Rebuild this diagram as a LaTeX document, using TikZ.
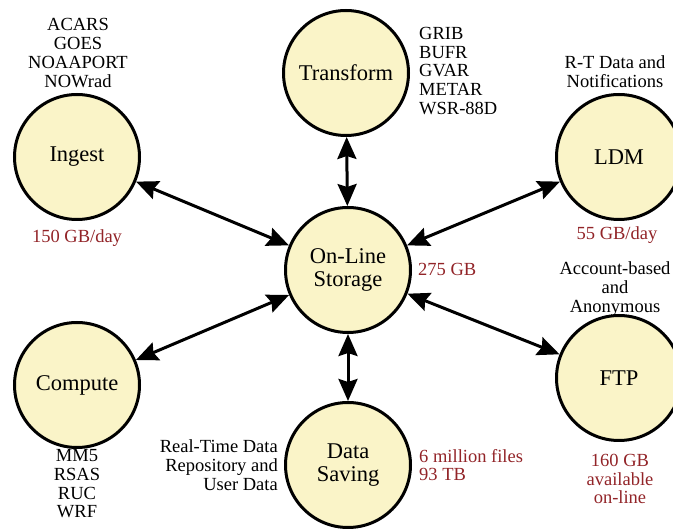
\documentclass[tikz,border=0pt]{standalone}
\usepackage{fontspec}
\setmainfont{Liberation Serif}
\usepackage{xcolor}
\usetikzlibrary{arrows.meta}
\definecolor{hubfill}{RGB}{250,244,200}
\definecolor{datared}{RGB}{146,36,40}

\begin{document}
\begin{tikzpicture}[x=1pt, y=-1pt,
  hub/.style={circle, draw=black, line width=3pt, fill=hubfill,
    minimum size=125pt, inner sep=0pt, align=center,
    font=\fontsize{22.5}{23}\selectfont},
  note/.style={inner sep=0pt, font=\fontsize{18.5}{18.7}\selectfont},
  amount/.style={note, text=datared},
  tip/.tip={Stealth[length=22pt 0, width=19pt 0, inset=3pt]},
  link/.style={line width=3pt, tip-tip}]
  \useasboundingbox (0,0) rectangle (673,529);

  % Draw the storage hub in the middle
  \node[hub] (storage) at (348,270) {On-Line\\Storage};

  % Draw the six services round it
  \node[hub] (ingest) at (77,157) {Ingest};
  \node[hub] (transform) at (346,73) {Transform};
  \node[hub] (ldm) at (619,157) {LDM};
  \node[hub] (compute) at (77,385) {Compute};
  \node[hub] (saving) at (348,465) {Data\\Saving};
  \node[hub] (ftp) at (619,378) {FTP};

  % Draw the two-way links
  \draw[link] (storage) -- (ingest);
  \draw[link] (storage) -- (transform);
  \draw[link] (storage) -- (ldm);
  \draw[link] (storage) -- (compute);
  \draw[link] (storage) -- (saving);
  \draw[link] (storage) -- (ftp);

  % Label the sources and products
  \node[note, align=center] (ingestsrc) at (78,53) {ACARS\\GOES\\NOAAPORT\\NOWrad};
  \node[note, align=left, anchor=west] (formats) at (419,71) {GRIB\\BUFR\\GVAR\\METAR\\WSR-88D};
  \node[note, align=center] (ldmnote) at (615,72) {R-T Data and\\Notifications};
  \node[note, align=center] (ftpnote) at (615,289) {Account-based\\and\\Anonymous};
  \node[note, align=center] (models) at (77,484) {MM5\\RSAS\\RUC\\WRF};
  \node[note, align=right, anchor=east] (savenote) at (278,465) {Real-Time Data\\Repository and\\User Data};

  % Label the volumes
  \node[amount] (ingestrate) at (77,238) {150 GB/day};
  \node[amount] (ldmrate) at (617,235) {55 GB/day};
  \node[amount, anchor=west] (storesize) at (418,269) {275 GB};
  \node[amount, align=center] (ftpsize) at (620,479) {160 GB\\available\\on-line};
  \node[amount, align=left, anchor=west] (savesize) at (419,465) {6 million files\\93 TB};
\end{tikzpicture}
\end{document}
